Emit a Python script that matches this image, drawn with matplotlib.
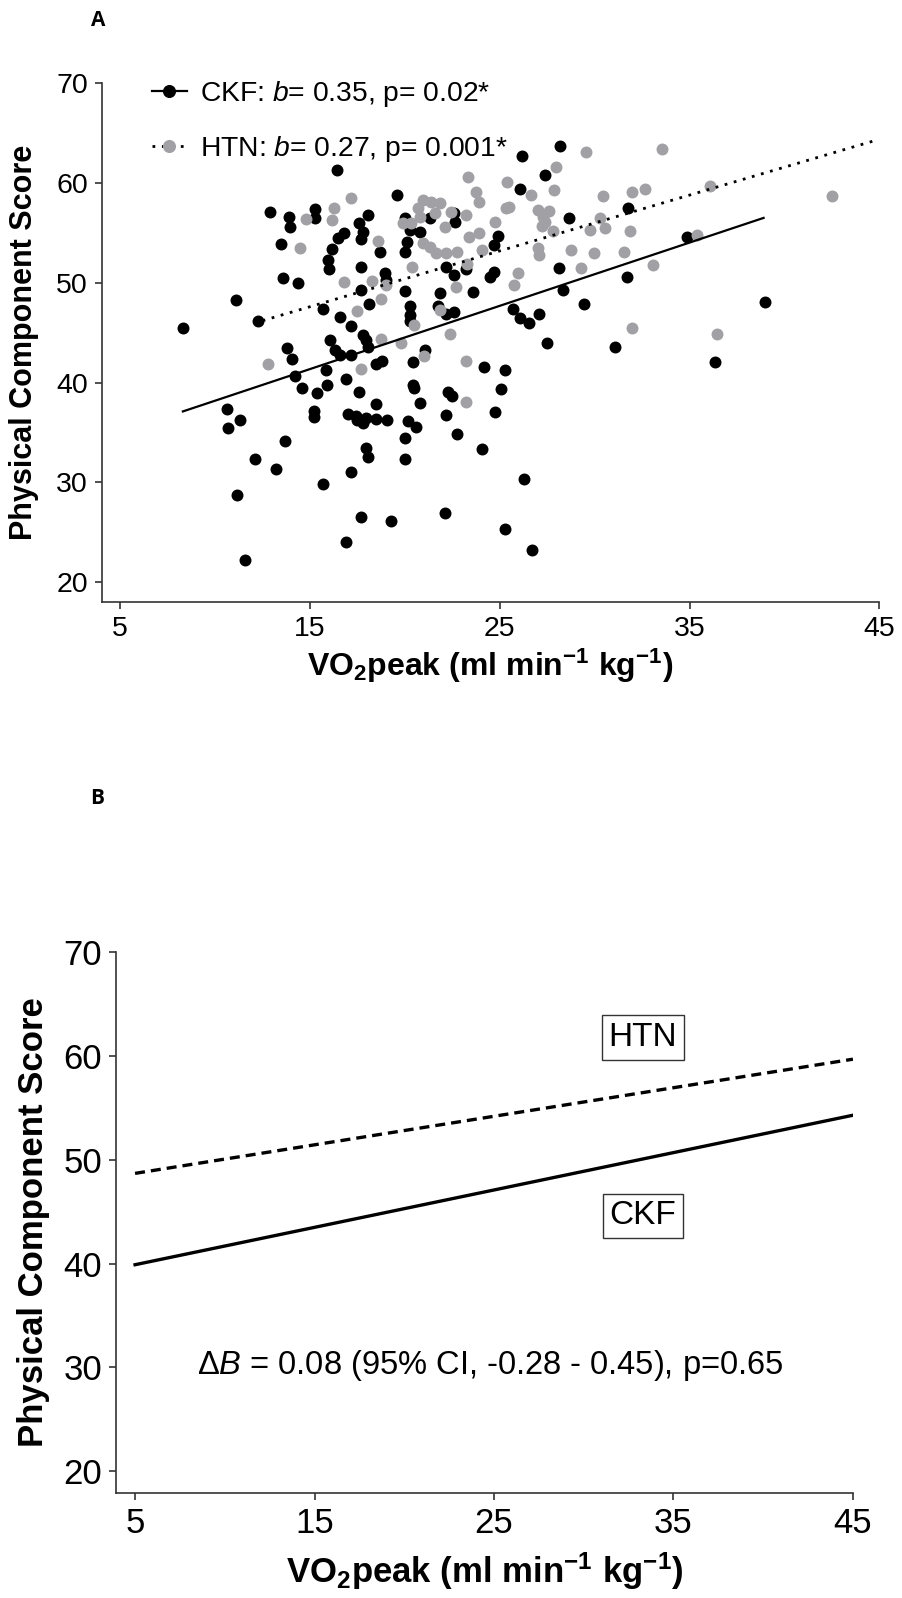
import numpy as np
import matplotlib
matplotlib.use("Agg")
import matplotlib.pyplot as plt
from matplotlib.lines import Line2D

plt.rcParams['font.family'] = ['Liberation Sans', 'DejaVu Sans']
plt.rcParams['mathtext.fontset'] = 'custom'
plt.rcParams['mathtext.rm'] = 'Liberation Sans'
plt.rcParams['mathtext.it'] = 'Liberation Sans:italic'
plt.rcParams['mathtext.bf'] = 'Liberation Sans:bold'

# ---- panel A data ----
ckf_x = [16.4, 19.58, 12.9, 13.9, 13.97, 15.25, 15.25, 18.08, 17.58, 17.79, 17.67, 16.8, 16.47,
         16.16, 15.92, 16.0, 13.49, 13.58, 14.37, 11.09, 12.26, 8.28, 15.68, 16.56, 17.18, 17.67,
         17.67, 18.09, 18.67, 18.97, 19.02, 19.98, 20.28, 20.28, 20.28, 21.86, 22.18, 22.6, 22.16,
         22.58, 21.74, 19.98, 20.25, 20.1, 19.98, 20.77, 21.3, 22.62, 23.23, 23.58, 28.18, 26.18,
         27.37, 26.07, 28.67, 31.77, 24.9, 24.67, 34.84, 24.46, 24.72, 28.1, 31.69, 28.35, 29.46,
         25.68, 26.04, 26.56, 27.05, 38.98, 13.79, 14.07, 14.2, 14.58, 15.39, 15.2, 15.2, 15.86,
         15.9, 16.07, 16.3, 16.56, 17.18, 16.88, 17.58, 17.0, 17.44, 17.5, 17.79, 17.93, 18.46,
         19.05, 18.46, 17.97, 18.05, 17.18, 15.68, 13.67, 13.19, 12.09, 10.6, 10.68, 11.3, 11.16,
         11.58, 17.67, 19.28, 16.88, 22.09, 17.79, 17.97, 18.05, 18.5, 18.81, 20.42, 21.04, 20.42,
         20.5, 20.77, 20.16, 20.56, 19.98, 19.98, 22.26, 22.5, 22.18, 22.74, 27.47, 31.07, 36.35,
         24.16, 25.28, 25.07, 24.77, 24.07, 26.3, 25.28, 26.68, 22.6]
ckf_y = [61.3, 58.8, 57.1, 56.6, 55.6, 57.4, 56.5, 56.8, 56.0, 55.1, 54.4, 55.0, 54.5,
         53.4, 52.3, 51.4, 53.9, 50.45, 49.95, 48.3, 46.2, 45.5, 47.35, 46.6, 45.7, 51.6,
         49.3, 47.9, 53.06, 51.0, 50.3, 49.2, 47.7, 46.8, 46.2, 49.0, 51.6, 50.8, 46.85,
         47.1, 47.7, 56.5, 55.3, 54.1, 53.1, 55.1, 56.5, 56.1, 51.4, 49.1, 63.7, 62.7,
         60.8, 59.4, 56.5, 57.5, 54.7, 53.8, 54.6, 50.6, 51.1, 51.45, 50.6, 49.3, 47.9,
         47.4, 46.5, 46.0, 46.9, 48.1, 43.5, 42.4, 40.7, 39.45, 38.95, 37.1, 36.5, 41.3,
         39.7, 44.3, 43.3, 42.8, 42.8, 40.4, 39.0, 36.8, 36.6, 36.25, 35.9, 36.4, 36.3,
         36.25, 37.8, 33.4, 32.5, 31.0, 29.8, 34.1, 31.3, 32.3, 37.3, 35.4, 36.25, 28.7,
         22.2, 26.5, 26.1, 24.0, 26.9, 44.8, 44.3, 43.6, 41.9, 42.2, 42.1, 43.3, 39.75,
         39.4, 37.9, 36.1, 35.5, 34.4, 32.3, 39.0, 38.65, 36.75, 34.85, 44.0, 43.6, 42.1,
         41.6, 41.25, 39.3, 37.0, 33.3, 30.3, 25.3, 23.2, 57.0]

htn_x = [14.77, 16.26, 16.18, 17.18, 14.49, 17.47, 16.77, 18.28, 18.58, 18.98, 18.76, 20.39,
         20.47, 21.83, 19.9, 20.34, 20.68, 20.95, 21.39, 21.83, 20.77, 21.56, 22.44, 22.09,
         20.95, 21.3, 21.65, 22.18, 22.75, 22.7, 23.3, 23.76, 23.9, 23.37, 23.28, 22.39,
         18.76, 29.55, 33.55, 27.97, 25.37, 26.65, 27.86, 30.46, 31.97, 32.67, 23.2, 25.33,
         25.5, 24.77, 27.0, 27.6, 27.26, 27.4, 27.23, 27.8, 30.28, 30.56, 29.76, 31.86,
         23.9, 24.07, 27.0, 27.09, 28.76, 29.95, 31.56, 35.4, 25.98, 25.77, 29.28, 33.05,
         31.97, 36.07, 42.5, 12.79, 17.67, 19.81, 20.98, 36.47, 23.2, 23.2]
htn_y = [56.4, 57.5, 56.3, 58.5, 53.5, 47.2, 50.1, 50.2, 54.2, 49.8, 48.35, 51.6,
         45.8, 47.3, 56.0, 56.0, 57.5, 58.3, 58.1, 58.0, 56.6, 57.0, 57.1, 55.6,
         53.96, 53.6, 53.0, 52.95, 53.1, 49.6, 60.6, 59.1, 58.1, 54.6, 51.9, 44.9,
         44.4, 63.1, 63.4, 61.6, 60.1, 58.8, 59.3, 58.7, 59.1, 59.4, 56.8, 57.5,
         57.6, 56.1, 57.3, 57.2, 56.6, 56.1, 55.7, 55.2, 56.5, 55.5, 55.3, 55.2,
         55.0, 53.3, 53.45, 52.8, 53.3, 53.0, 53.1, 54.8, 51.0, 49.8, 51.45, 51.8,
         45.5, 59.7, 58.7, 41.9, 41.4, 44.0, 42.7, 44.9, 42.2, 38.0]

# fitted lines, panel A (end points)
ckf_fit_x = [8.3, 38.9]
ckf_fit_y = [37.1, 56.5]
htn_fit_x = [12.5, 44.85]
htn_fit_y = [46.2, 64.3]

# ---- panel B data ----
b_x = [5, 45]
b_ckf = [39.9, 54.3]
b_htn = [48.7, 59.7]

xticks = [5, 15, 25, 35, 45]
yticks = [20, 30, 40, 50, 60, 70]
grey = '#a1a1a5'
xlab = r'VO$_\mathbf{2}$peak (ml min$^\mathbf{-1}$ kg$^\mathbf{-1}$)'

fig = plt.figure(figsize=(9.03, 15.98), dpi=100)

def style(ax, xlo, ylo, fs):
    ax.set_xlim(xlo, 45)
    ax.set_ylim(ylo, 70)
    ax.set_xticks(xticks)
    ax.set_yticks(yticks)
    for s in ['top', 'right']:
        ax.spines[s].set_visible(False)
    for s in ['left', 'bottom']:
        ax.spines[s].set_linewidth(1.2)
        ax.spines[s].set_color('#333333')
    ax.spines['left'].set_bounds(ylo, 70)
    ax.tick_params(length=5, width=1.2, color='#333333', labelsize=fs, pad=5)

# panel A
ax1 = fig.add_axes([0.1126, 0.6235, 0.8612, 0.3244])
style(ax1, 4.02, 18.03, 20.5)
ax1.scatter(ckf_x, ckf_y, s=74, color='black', zorder=3, linewidths=0)
ax1.scatter(htn_x, htn_y, s=74, color=grey, zorder=3, linewidths=0)
ax1.plot(ckf_fit_x, ckf_fit_y, color='black', lw=1.6, zorder=4)
ax1.plot(htn_fit_x, htn_fit_y, color='black', lw=2.0, ls=(0, (1, 2.4)), zorder=4)
ax1.set_ylabel('Physical Component Score', fontsize=22, fontweight='bold', labelpad=12)
ax1.set_xlabel(xlab, fontsize=23, fontweight='bold', labelpad=4)

h1 = Line2D([], [], color='black', lw=1.6, marker='o', markersize=8.4)
h2 = Line2D([], [], color='black', lw=2.0, ls=(0, (1, 2.4)), marker='o', markersize=8.4,
            markerfacecolor=grey, markeredgecolor=grey)
ax1.legend([h1, h2], [r'CKF: $\mathit{b}$= 0.35, p= 0.02*', r'HTN: $\mathit{b}$= 0.27, p= 0.001*'],
           loc='upper left', bbox_to_anchor=(0.05, 1.03), frameon=False, fontsize=20.3,
           handlelength=1.25, handletextpad=0.45, labelspacing=0.9, borderaxespad=0)

fig.text(98 / 903, 1 - 20 / 1598, 'A', fontsize=15, fontweight='bold', ha='center', va='center',
         family=['Open Sans', 'DejaVu Sans'])

# panel B
ax2 = fig.add_axes([0.1285, 0.0659, 0.8161, 0.3382])
style(ax2, 3.94, 17.94, 25)
ax2.plot(b_x, b_ckf, color='black', lw=2.4)
ax2.plot(b_x, b_htn, color='black', lw=2.4, ls=(0, (3.0, 1.8)))
ax2.set_ylabel('Physical Component Score', fontsize=25, fontweight='bold', labelpad=10)
ax2.set_xlabel(xlab, fontsize=25, fontweight='bold', labelpad=8)
box = dict(boxstyle='square,pad=0.2', facecolor='white', edgecolor='#333333', lw=1.0)
ax2.text(33.3, 61.8, 'HTN', fontsize=24, ha='center', va='center', bbox=box)
ax2.text(33.3, 44.6, 'CKF', fontsize=24, ha='center', va='center', bbox=box)
ax2.text(24.8, 30.2, r'$\mathit{\Delta B}$ = 0.08 (95% CI, -0.28 - 0.45), p=0.65',
         fontsize=23.5, ha='center', va='center')

fig.text(97 / 903, 1 - 798 / 1598, 'B', fontsize=15, fontweight='bold', ha='center', va='center',
         family=['Open Sans', 'DejaVu Sans'])

fig.savefig('out.png', dpi=100)
